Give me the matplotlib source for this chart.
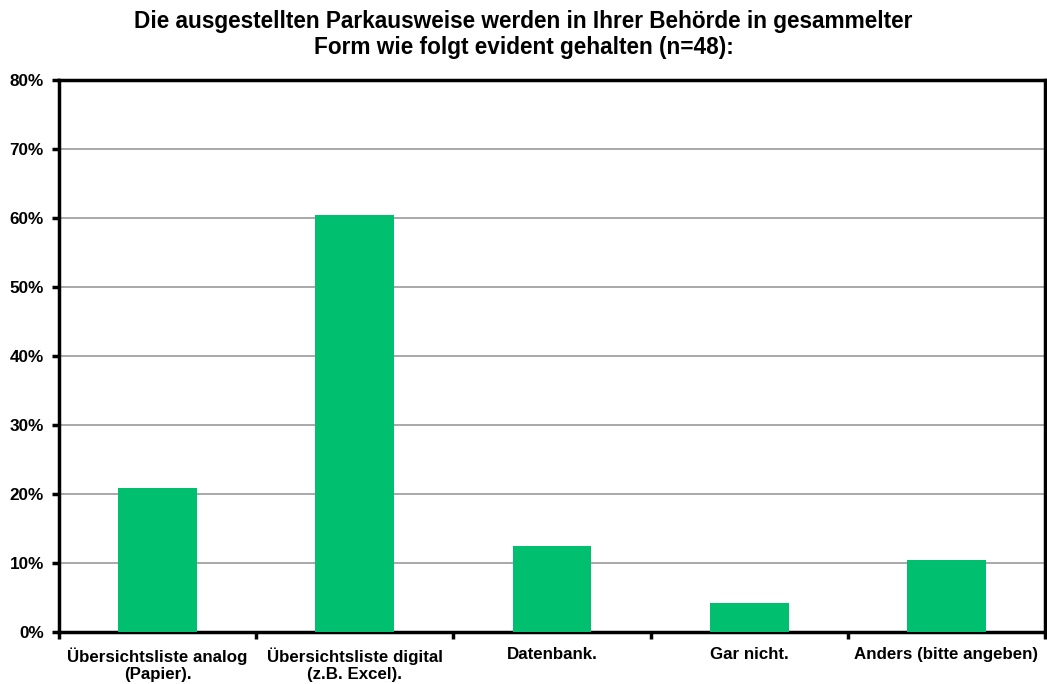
import matplotlib.pyplot as plt
import numpy as np
from matplotlib.ticker import PercentFormatter

plt.rcParams['font.family'] = ['Liberation Sans', 'DejaVu Sans']
plt.rcParams['font.weight'] = 'bold'

categories = ['Übersichtsliste analog\n(Papier).', 'Übersichtsliste digital\n(z.B. Excel).',
              'Datenbank.', 'Gar nicht.', 'Anders (bitte angeben)']
values = [20.8, 60.4, 12.5, 4.2, 10.4]
yticks = [0, 10, 20, 30, 40, 50, 60, 70, 80]

fig = plt.figure(figsize=(10.47, 6.84), dpi=100)
ax = fig.add_axes([0.0564, 0.076, 0.9416, 0.807])

x = np.arange(len(categories))
ax.bar(x, values, width=0.4, color='#00BF6F', zorder=3)

ax.set_xlim(-0.5, len(categories) - 0.5)
ax.set_ylim(0, 80)
ax.set_yticks(yticks)
ax.yaxis.set_major_formatter(PercentFormatter(decimals=0))
ax.grid(axis='y', color='#9a9a9a', linewidth=1.2, zorder=0)

ax.set_xticks(np.arange(len(categories) + 1) - 0.5)
ax.set_xticklabels([])
ax.set_xticks(x, minor=True)
ax.set_xticklabels(categories, minor=True, fontsize=12.2, fontweight='bold', linespacing=1.2)
ax.tick_params(axis='x', which='minor', length=0, pad=11)
ax.tick_params(axis='x', which='major', length=5, width=2.5, direction='out')
ax.tick_params(axis='y', length=5, width=2.5, direction='out', labelsize=12.3, pad=6)
for lbl in ax.get_yticklabels():
    lbl.set_fontweight('bold')

for s in ax.spines.values():
    s.set_linewidth(2.5)
    s.set_color('black')

fig.suptitle('Die ausgestellten Parkausweise werden in Ihrer Behörde in gesammelter\n'
             'Form wie folgt evident gehalten (n=48):',
             fontsize=16.3, fontweight='bold', y=0.985, linespacing=1.15)

fig.savefig('out.png', dpi=100)
